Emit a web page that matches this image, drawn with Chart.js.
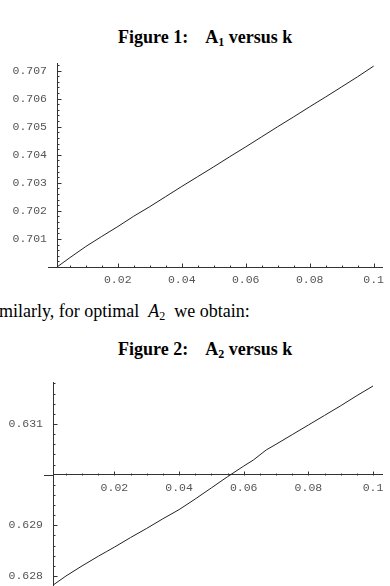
<!DOCTYPE html>
<html>
<head>
<meta charset="utf-8">
<script src="https://cdn.jsdelivr.net/npm/chart.js@4/dist/chart.umd.min.js"></script>
<style>
    html, body { margin: 0; padding: 0; background: #fff; }
    body {
        width: 390px; height: 586px; position: relative; overflow: hidden;
        font-family: "Liberation Serif", "Times New Roman", serif; color: #000;
    }
    .text { position: absolute; white-space: pre; font-size: 18px; line-height: 18px; }
    .caption { font-weight: bold; }
    .text sub { font-size: 12px; vertical-align: baseline; position: relative; top: 3px; }
    .text i { font-style: italic; }
    canvas { position: absolute; left: 0; }
    #chart1 { top: 40px; }
    #chart2 { top: 360px; }
</style>
</head>
<body>
<div class="text caption" style="left:118px; top:28px;">Figure 1:    A<sub>1</sub> versus k</div>
<canvas id="chart1" width="390" height="250"></canvas>
<div class="text" style="left:-16px; top:302px;">Similarly, for optimal  <i>A</i><sub>2</sub>  we obtain:</div>
<div class="text caption" style="left:118px; top:340px;">Figure 2:    A<sub>2</sub> versus k</div>
<canvas id="chart2" width="390" height="246"></canvas>

<script>
// Figura 1: A1 em função de k
const kValues1 = [0.001, 0.005, 0.01, 0.015, 0.02, 0.025, 0.03, 0.035, 0.04, 0.045, 0.05,
                  0.055, 0.06, 0.065, 0.07, 0.075, 0.08, 0.085, 0.09, 0.095, 0.1];
const a1Values = [0.70000, 0.70033, 0.70073, 0.70109, 0.70144, 0.70181, 0.70215, 0.70251,
                  0.70287, 0.70322, 0.70357, 0.70393, 0.70428, 0.70464, 0.70500, 0.70535,
                  0.70571, 0.70606, 0.70642, 0.70678, 0.70716];

// Figura 2: A2 em função de k
const kValues2 = [0.001, 0.005, 0.01, 0.015, 0.0175, 0.02, 0.025, 0.03, 0.035, 0.04, 0.045,
                  0.05, 0.055, 0.06, 0.063, 0.067, 0.07, 0.075, 0.08, 0.085, 0.09, 0.095, 0.1];
const a2Values = [0.62782, 0.62800, 0.62820, 0.62839, 0.62848, 0.62857, 0.62876, 0.62894,
                  0.62913, 0.62931, 0.62952, 0.62974, 0.62996, 0.63017, 0.63029, 0.63049,
                  0.63060, 0.63079, 0.63098, 0.63117, 0.63136, 0.63156, 0.63175];

// Rótulos dos eixos
const xTickLabels = ['0.02', '0.04', '0.06', '0.08', '0.1'];
const yTickLabels1 = ['0.701', '0.702', '0.703', '0.704', '0.705', '0.706', '0.707'];
const yTickLabels2 = ['0.628', '0.629', '0.631'];

const axisColor = '#333';
const labelColor = '#555';
const monoFont = { family: '"Liberation Mono", "Courier New", monospace', size: 11.5 };

function isMultiple(v, step) {
    const r = v / step;
    return Math.abs(r - Math.round(r)) < 1e-6;
}

// devolve o rótulo da lista que corresponde ao valor do tick (ou vazio)
function labelFor(list) {
    return function(value) {
        const hit = list.find(l => Math.abs(parseFloat(l) - value) < 1e-9);
        return hit || '';
    };
}

// marcas de tick para dentro (estilo Mathematica) + prolongamento do eixo x à esquerda
const inwardTicks = {
    id: 'inwardTicks',
    afterDraw(chart, args, opts) {
        const { ctx, chartArea } = chart;
        const xs = chart.scales.x, ys = chart.scales.y;
        const axisY = Math.round(ys.getPixelForValue(opts.originY)) + 0.5;
        const axisX = Math.round(xs.getPixelForValue(opts.originX)) + 0.5;
        ctx.save();
        ctx.strokeStyle = axisColor;
        ctx.lineWidth = 1;
        ctx.beginPath();
        ctx.moveTo(chartArea.left - opts.stub, axisY);
        ctx.lineTo(chartArea.left, axisY);
        xs.ticks.forEach(t => {
            if (t.value <= opts.originX + 1e-9) return;
            const px = Math.round(xs.getPixelForValue(t.value)) + 0.5;
            const len = isMultiple(t.value, opts.majorX) ? 4 : 2;
            ctx.moveTo(px, axisY);
            ctx.lineTo(px, axisY - len);
        });
        ys.ticks.forEach(t => {
            if (Math.abs(t.value - opts.originY) < 1e-9) return;
            const py = Math.round(ys.getPixelForValue(t.value)) + 0.5;
            const len = isMultiple(t.value, opts.majorY) ? 4 : 2;
            ctx.moveTo(axisX, py);
            ctx.lineTo(axisX + len, py);
        });
        ctx.stroke();
        ctx.restore();
    }
};

function makeChart(id, kValues, aValues, cfg) {
    const points = kValues.map((k, i) => ({ x: k, y: aValues[i] }));
    return new Chart(document.getElementById(id), {
        type: 'line',
        data: {
            datasets: [{
                data: points,
                borderColor: '#222',
                borderWidth: 1,
                pointRadius: 0,
                tension: 0,
                fill: false
            }]
        },
        plugins: [inwardTicks],
        options: {
            responsive: false,
            animation: false,
            layout: { padding: cfg.padding },
            plugins: {
                legend: { display: false },
                tooltip: { enabled: false },
                inwardTicks: { originX: cfg.xMin, originY: cfg.originY, majorX: 0.02, majorY: 0.001, stub: 9 }
            },
            scales: {
                x: {
                    type: 'linear',
                    min: cfg.xMin,
                    max: cfg.xMax,
                    position: { y: cfg.originY },
                    grid: { display: true, drawOnChartArea: false, drawTicks: false, color: 'rgba(0,0,0,0)' },
                    border: { color: axisColor, width: 1 },
                    ticks: {
                        stepSize: 0.005,
                        includeBounds: false,
                        autoSkip: false,
                        maxRotation: 0,
                        padding: cfg.xLabelPad,
                        color: labelColor,
                        font: monoFont,
                        callback: labelFor(xTickLabels)
                    }
                },
                y: {
                    type: 'linear',
                    position: 'left',
                    min: cfg.yMin,
                    max: cfg.yMax,
                    afterFit: scale => { scale.width = cfg.yAxisWidth; },
                    grid: { display: true, drawOnChartArea: false, drawTicks: false, color: 'rgba(0,0,0,0)' },
                    border: { color: axisColor, width: 1 },
                    ticks: {
                        stepSize: 0.0002,
                        includeBounds: false,
                        autoSkip: false,
                        padding: 10,
                        color: labelColor,
                        font: monoFont,
                        callback: labelFor(cfg.yLabels)
                    }
                }
            }
        }
    });
}

// margens maiores que o padding que o eixo y pede (~17px), para a área ficar exata
makeChart('chart1', kValues1, a1Values, {
    padding: { left: 0, right: 0, top: 23, bottom: 23 },
    yAxisWidth: 57,
    xMin: 0.001, xMax: 0.10287,
    yMin: 0.700, yMax: 0.70727,
    originY: 0.700,
    xLabelPad: 6,
    yLabels: yTickLabels1
});

// o canvas passa do fim da página para que a área do gráfico chegue a y=586
makeChart('chart2', kValues2, a2Values, {
    padding: { left: 0, right: 4, top: 22, bottom: 20 },
    yAxisWidth: 53,
    xMin: 0.001, xMax: 0.10307,
    yMin: 0.627803, yMax: 0.631829,
    originY: 0.630,
    xLabelPad: 6.5,
    yLabels: yTickLabels2
});
</script>
</body>
</html>
